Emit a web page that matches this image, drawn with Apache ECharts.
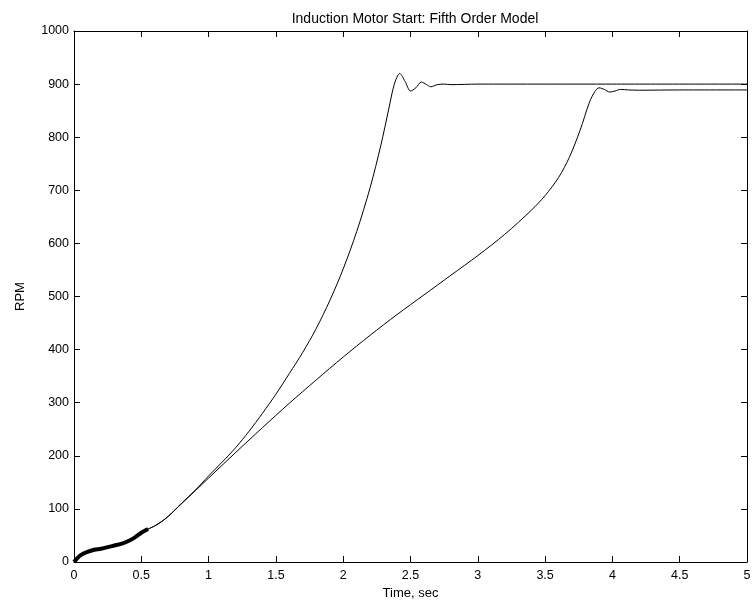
<!DOCTYPE html>
<html>
<head>
<meta charset="utf-8">
<title>Induction Motor Start</title>
<script src="https://cdn.jsdelivr.net/npm/echarts@6/dist/echarts.min.js"></script>
<style>
  html, body { margin: 0; padding: 0; background: #fff; }
  #chart { width: 755px; height: 607px; }
</style>
</head>
<body>
<div id="chart"></div>
<script>
// shared start (both models ride together, with the torque ripple band)
const startTime = [0, 0.02, 0.05, 0.1, 0.15, 0.2, 0.25, 0.3, 0.35, 0.4, 0.45, 0.5, 0.55]
const startRpm  = [0, 6, 13, 19, 23, 25, 28, 31, 34, 39, 46, 55, 62]

// faster run, settles at 900
const fastTime = [0.55, 0.6, 0.65, 0.7, 0.75, 0.8, 0.9, 1.0, 1.1, 1.2, 1.3, 1.4, 1.5, 1.6, 1.7, 1.8, 1.9, 2.0, 2.1, 2.2, 2.28, 2.34, 2.38, 2.42, 2.46, 2.5, 2.54, 2.58, 2.62, 2.65, 2.7, 2.75, 2.8, 3.0, 4.0, 5.0]
const fastRpm  = [62, 68, 76, 86, 98, 111, 135, 162, 188, 215, 246, 280, 316, 355, 395, 440, 492, 552, 622, 705, 785, 855, 900, 920, 905, 887, 893, 904, 899, 895, 899, 900, 899, 900, 900, 900]

// slower run, settles near 889
const slowTime = [0.55, 0.6, 0.65, 0.7, 0.75, 0.8, 0.9, 1.0, 1.2, 1.4, 1.6, 1.8, 2.0, 2.2, 2.4, 2.6, 2.8, 3.0, 3.2, 3.4, 3.5, 3.6, 3.68, 3.76, 3.83, 3.87, 3.9, 3.94, 3.98, 4.02, 4.06, 4.12, 4.2, 4.5, 5.0]
const slowRpm  = [62, 68, 76, 86, 98, 110, 134, 158, 206, 253, 299, 343, 386, 427, 466, 503, 540, 577, 617, 663, 690, 724, 762, 813, 866, 886, 893, 890, 885, 887, 890, 889, 888.5, 889, 889]

const xTicks = [0, 0.5, 1, 1.5, 2, 2.5, 3, 3.5, 4, 4.5, 5]
const yTicks = [0, 100, 200, 300, 400, 500, 600, 700, 800, 900, 1000]

function pairs(xs, ys) {
  return xs.map((x, i) => [x, ys[i]])
}

const font = 'Liberation Sans, Arial, Helvetica, sans-serif'
const chart = echarts.init(document.getElementById('chart'))

const baseX = {
  type: 'value',
  min: xTicks[0],
  max: xTicks[xTicks.length - 1],
  interval: 0.5,
  axisLine: { show: true, onZero: false, lineStyle: { color: '#000', width: 1 } },
  axisTick: { show: true, inside: true, length: 6, lineStyle: { color: '#000' } },
  splitLine: { show: false }
}
const baseY = {
  type: 'value',
  min: yTicks[0],
  max: yTicks[yTicks.length - 1],
  interval: 100,
  axisLine: { show: true, onZero: false, lineStyle: { color: '#000', width: 1 } },
  axisTick: { show: true, inside: true, length: 6, lineStyle: { color: '#000' } },
  splitLine: { show: false }
}

const line = {
  type: 'line',
  showSymbol: false,
  smooth: 0.3,
  animation: false,
  lineStyle: { color: '#000', width: 1 }
}

chart.setOption({
  backgroundColor: '#fff',
  animation: false,
  title: {
    text: 'Induction Motor Start: Fifth Order Model',
    left: 410,
    top: 7,
    textAlign: 'center',
    textStyle: { fontFamily: font, fontSize: 14, fontWeight: 'normal', color: '#000' }
  },
  grid: { left: 74, right: 8, top: 31, bottom: 45, containLabel: false },
  xAxis: [
    Object.assign({}, baseX, {
      position: 'bottom',
      name: 'Time, sec',
      nameLocation: 'middle',
      nameGap: 25,
      nameTextStyle: { fontFamily: font, fontSize: 13, color: '#000' },
      axisLabel: { show: true, margin: 7, fontFamily: font, fontSize: 12.5, color: '#000',
        formatter: v => String(v) }
    }),
    Object.assign({}, baseX, { position: 'top', axisLabel: { show: false } })
  ],
  yAxis: [
    Object.assign({}, baseY, {
      position: 'left',
      name: 'RPM',
      nameLocation: 'middle',
      nameGap: 47,
      nameTextStyle: { fontFamily: font, fontSize: 13, color: '#000' },
      axisLabel: { show: true, margin: 5, fontFamily: font, fontSize: 12.5, color: '#000',
        formatter: v => String(v) }
    }),
    Object.assign({}, baseY, { position: 'right', axisLabel: { show: false } })
  ],
  series: [
    Object.assign({}, line, { name: 'ripple', data: pairs(startTime, startRpm),
      lineStyle: { color: '#000', width: 4 } }),
    Object.assign({}, line, { name: 'fast', data: pairs(fastTime, fastRpm) }),
    Object.assign({}, line, { name: 'slow', data: pairs(slowTime, slowRpm) })
  ]
})
</script>
</body>
</html>
